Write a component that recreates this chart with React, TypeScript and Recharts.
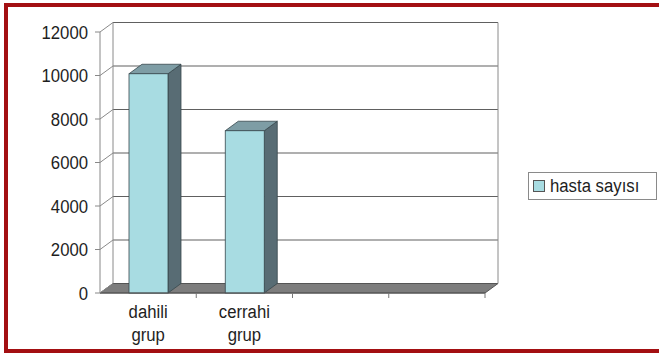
import React from 'react';
import { BarChart, Bar, XAxis, YAxis, CartesianGrid, Legend } from 'recharts';

// Data
const categories = ['dahili grup', 'cerrahi grup', '', ' '];
const hastaSayisi: (number | null)[] = [10080, 7460, null, null];
const yTicks = [0, 2000, 4000, 6000, 8000, 10000, 12000];
const seriesName = 'hasta sayısı';

const data = categories.map((grup, i) => ({ grup, hasta: hastaSayisi[i] }));

// Layout
const W = 659;
const H = 355;
const PLOT_LEFT = 100;
const PLOT_TOP = 32;
const PLOT_RIGHT = 485;
const PLOT_BOTTOM = 293;
const Y_AXIS_W = 60;
const X_AXIS_H = 30;
const DX = 13; // depth offset to the back wall
const DY = 9.5;
const FONT = '"Liberation Sans", Arial, sans-serif';
const FONT_SIZE = 19;
const NARROW = 0.88; // horizontal squeeze of the axis label glyphs
const LEGEND_NARROW = 0.93;
const SLOT = (PLOT_RIGHT - PLOT_LEFT) / categories.length;

const FRONT = '#a8dce2';
const SIDE = '#586c74';
const TOP = '#7e9da5';
const EDGE = '#37474d';
const TEXT = '#1e1e1e';

// Back wall gridlines, connectors to the front axis, wall edges and floor
const BackWallLine = (p: any) => {
  const { x1, y1, x2, index } = p;
  const gx = typeof p.x === 'number' ? p.x : PLOT_LEFT;
  const gy = typeof p.y === 'number' ? p.y : PLOT_TOP;
  const gw = typeof p.width === 'number' ? p.width : PLOT_RIGHT - PLOT_LEFT;
  const gh = typeof p.height === 'number' ? p.height : PLOT_BOTTOM - PLOT_TOP;
  const isFloor = Math.abs(y1 - (gy + gh)) < 0.5;
  const isTop = Math.abs(y1 - gy) < 0.5;
  return (
    <g key={`bw-${index}`}>
      {isFloor && (
        <polygon
          points={`${gx},${y1} ${gx + gw},${y1} ${gx + gw + DX},${y1 - DY} ${gx + DX},${y1 - DY}`}
          fill="#7d7d7d"
          stroke="#555"
          strokeWidth={1}
        />
      )}
      {!isFloor && (
        <line x1={x1 + DX} y1={y1 - DY} x2={x2 + DX} y2={y1 - DY} stroke="#606060" strokeWidth={1.1} />
      )}
      <line x1={x1} y1={y1} x2={x1 + DX} y2={y1 - DY} stroke="#8a8a8a" strokeWidth={1} />
      {isTop && (
        <>
          <line x1={gx + DX} y1={gy - DY} x2={gx + DX} y2={gy + gh - DY} stroke="#8a8a8a" strokeWidth={1} />
          <line x1={gx + gw + DX} y1={gy - DY} x2={gx + gw + DX} y2={gy + gh - DY} stroke="#8a8a8a" strokeWidth={1} />
        </>
      )}
    </g>
  );
};

// Box-shaped bar: front face, right side and top
const Bar3D = (p: any) => {
  const { x, y, width: w, height: h, payload } = p;
  if (payload?.hasta == null || !(h > 0)) return null;
  return (
    <g>
      <polygon
        points={`${x + w},${y} ${x + w + DX},${y - DY} ${x + w + DX},${y + h - DY} ${x + w},${y + h}`}
        fill={SIDE}
        stroke={EDGE}
        strokeWidth={0.8}
      />
      <polygon
        points={`${x},${y} ${x + DX},${y - DY} ${x + w + DX},${y - DY} ${x + w},${y}`}
        fill={TOP}
        stroke={EDGE}
        strokeWidth={0.8}
      />
      <rect x={x} y={y} width={w} height={h} fill={FRONT} stroke={EDGE} strokeWidth={0.8} />
    </g>
  );
};

// Value labels on the front vertical axis
const ValueTick = (p: any) => {
  const { x, y, payload } = p;
  return (
    <text
      transform={`translate(${x},${y}) scale(${NARROW},1)`}
      textAnchor="end"
      dy="0.36em"
      fontSize={FONT_SIZE}
      fontFamily={FONT}
      fill={TEXT}
    >
      {payload?.value}
    </text>
  );
};

// Category labels on two lines, tick marks between categories
const CategoryTick = (p: any) => {
  const { x, payload } = p;
  const half = typeof payload?.offset === 'number' && payload.offset > 0 ? payload.offset : SLOT / 2;
  const words = String(payload?.value ?? '').trim().split(' ').filter(Boolean);
  return (
    <g>
      <line x1={x + half} y1={PLOT_BOTTOM} x2={x + half} y2={PLOT_BOTTOM + 5} stroke="#777" strokeWidth={1} />
      <text
        transform={`translate(${x},${PLOT_BOTTOM}) scale(${NARROW},1)`}
        textAnchor="middle"
        fontSize={FONT_SIZE}
        fontFamily={FONT}
        fill={TEXT}
      >
        {words.map((wd, i) => (
          <tspan key={i} x={0} dy={i === 0 ? 25 : 23}>
            {wd}
          </tspan>
        ))}
      </text>
    </g>
  );
};

const LegendBox = (p: any) => {
  const item = p.payload?.[0];
  if (!item) return null;
  return (
    <div
      style={{
        boxSizing: 'border-box',
        width: 129,
        height: 28,
        border: '1.5px solid #8a8a8a',
        background: '#fff',
        display: 'flex',
        alignItems: 'center',
        paddingLeft: 4,
        fontFamily: FONT,
        color: TEXT,
        whiteSpace: 'nowrap',
        overflow: 'hidden',
      }}
    >
      <span
        style={{
          display: 'inline-block',
          flex: '0 0 auto',
          width: 10,
          height: 10,
          background: item.color,
          border: '1px solid #555',
          marginRight: 5,
        }}
      />
      <span
        style={{
          display: 'inline-block',
          fontSize: 18,
          transform: `scaleX(${LEGEND_NARROW})`,
          transformOrigin: 'left center',
        }}
      >
        {item.value}
      </span>
    </div>
  );
};

export default function App() {
  return (
    <div style={{ position: 'absolute', left: 0, top: 0, width: W, height: H, background: '#fff' }}>
      <div
        style={{
          position: 'absolute',
          left: 4,
          top: 3,
          width: W - 4,
          height: 350,
          boxSizing: 'border-box',
          borderTop: '4px solid #a30f12',
          borderLeft: '4px solid #a30f12',
          borderBottom: '4px solid #a30f12',
        }}
      />
      <div style={{ position: 'absolute', left: 0, top: 0 }}>
        <BarChart
          width={W}
          height={H}
          data={data}
          margin={{
            top: PLOT_TOP,
            left: PLOT_LEFT - Y_AXIS_W,
            right: W - PLOT_RIGHT,
            bottom: H - PLOT_BOTTOM - X_AXIS_H,
          }}
          barSize={39}
        >
          <CartesianGrid vertical={false} horizontal={BackWallLine as any} />
          <XAxis
            dataKey="grup"
            height={X_AXIS_H}
            interval={0}
            tickLine={false}
            axisLine={{ stroke: '#555' }}
            tick={<CategoryTick />}
          />
          <YAxis
            width={Y_AXIS_W}
            domain={[0, 12000]}
            ticks={yTicks}
            tickSize={5}
            tickMargin={7}
            axisLine={{ stroke: '#888' }}
            tickLine={{ stroke: '#888' }}
            tick={<ValueTick />}
          />
          <Bar dataKey="hasta" name={seriesName} fill={FRONT} shape={<Bar3D />} isAnimationActive={false} />
          <Legend
            layout="vertical"
            align="center"
            verticalAlign="middle"
            wrapperStyle={{ left: 528, top: 172, width: 129, height: 28 }}
            content={<LegendBox />}
          />
        </BarChart>
      </div>
    </div>
  );
}
